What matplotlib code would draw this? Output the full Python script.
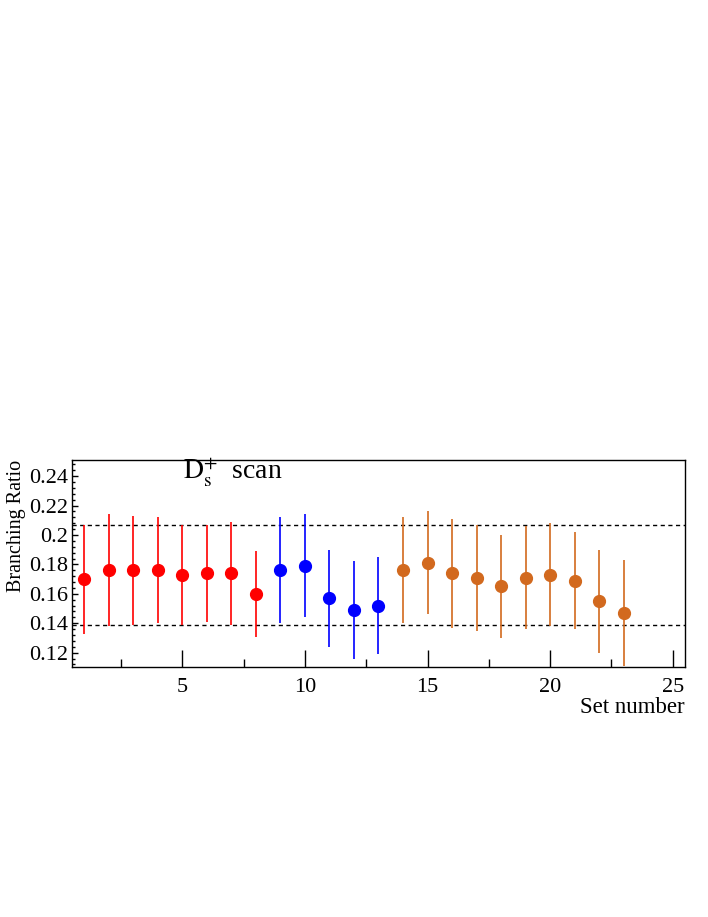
import numpy as np
import matplotlib
matplotlib.use("Agg")
import matplotlib.pyplot as plt
from matplotlib.ticker import MultipleLocator, FormatStrFormatter

plt.rcParams['font.family'] = ['Liberation Serif', 'DejaVu Serif']
plt.rcParams['mathtext.fontset'] = 'stix'

# set number, branching ratio and its error, by group
red_sets = [1, 2, 3, 4, 5, 6, 7, 8]
red_vals = [0.170, 0.176, 0.176, 0.176, 0.173, 0.174, 0.174, 0.160]
red_errs = [0.037, 0.038, 0.037, 0.036, 0.034, 0.033, 0.035, 0.029]

blue_sets = [9, 10, 11, 12, 13]
blue_vals = [0.176, 0.179, 0.157, 0.149, 0.152]
blue_errs = [0.036, 0.035, 0.033, 0.033, 0.033]

orange_sets = [14, 15, 16, 17, 18, 19, 20, 21, 22, 23]
orange_vals = [0.176, 0.181, 0.174, 0.171, 0.165, 0.171, 0.173, 0.169, 0.155, 0.147]
orange_errs = [0.036, 0.035, 0.037, 0.036, 0.035, 0.035, 0.035, 0.033, 0.035, 0.036]

band_lo = 0.139
band_hi = 0.207

fig = plt.figure(figsize=(7.08, 9.17), dpi=100)
ax = fig.add_axes([0.1017, 0.273, 0.8658, 0.2254])

for sets, vals, errs, col in [(red_sets, red_vals, red_errs, '#ff0000'),
                              (blue_sets, blue_vals, blue_errs, '#0000ff'),
                              (orange_sets, orange_vals, orange_errs, '#d2691e')]:
    ax.errorbar(sets, vals, yerr=errs, fmt='o', color=col, ms=8.5,
                elinewidth=1.2, capsize=0, zorder=3)

ax.axhline(band_hi, color='black', ls=(0, (3, 2.5)), lw=1.0)
ax.axhline(band_lo, color='black', ls=(0, (3, 2.5)), lw=1.0)

ax.set_xlim(0.5, 25.5)
ax.set_ylim(0.1105, 0.251)

ax.xaxis.set_major_locator(MultipleLocator(5))
ax.xaxis.set_minor_locator(MultipleLocator(2.5))
ax.yaxis.set_major_locator(MultipleLocator(0.02))
ax.yaxis.set_minor_locator(MultipleLocator(0.004))
ax.yaxis.set_major_formatter(FormatStrFormatter('%g'))

ax.tick_params(axis='x', which='major', direction='in', length=12, width=1,
               labelsize=16, pad=8, top=False)
ax.tick_params(axis='x', which='minor', direction='in', length=6, width=1, top=False)
ax.tick_params(axis='y', which='major', direction='in', length=4.5, width=1,
               labelsize=16, pad=3, right=False)
ax.tick_params(axis='y', which='minor', direction='in', length=2.3, width=1, right=False)

for s in ax.spines.values():
    s.set_linewidth(1.0)

ax.set_ylabel('Branching Ratio', fontsize=14.5, loc='top', labelpad=2)
ax.text(1.0, -0.148, 'Set number', transform=ax.transAxes, ha='right', va='top',
        fontsize=16.5)
ax.text(0.181, 0.903, r'$\mathrm{D}_{\mathrm{s}}^{+}$  scan', transform=ax.transAxes,
        ha='left', va='baseline', fontsize=20)

fig.savefig('out.png', dpi=100)
